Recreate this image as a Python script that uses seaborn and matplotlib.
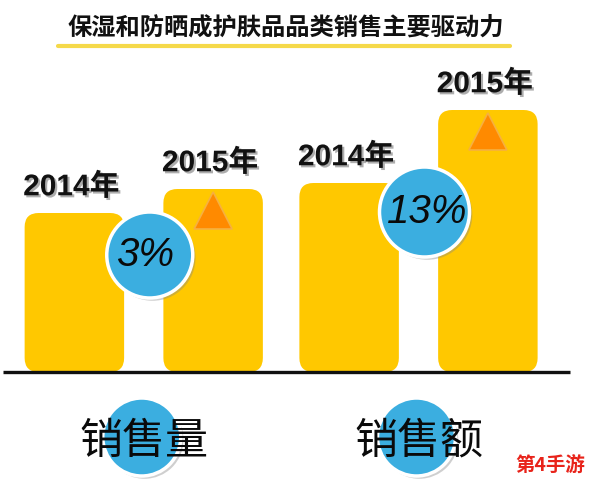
import matplotlib
matplotlib.use("Agg")
import matplotlib.pyplot as plt
import matplotlib.patheffects as pe
from matplotlib.patches import FancyBboxPatch, Ellipse, Polygon
from matplotlib.lines import Line2D
import seaborn as sns
import pandas as pd

# ---- data ----
metrics = ["销售量", "销售额"]
years = ["2014年", "2015年"]
values_2014 = [159, 189]
values_2015 = [183, 262]
growth = ["3%", "13%"]
title = "保湿和防晒成护肤品品类销售主要驱动力"
watermark = "第4手游"

df = pd.DataFrame({
    "指标": metrics * 2,
    "年份": [years[0]] * 2 + [years[1]] * 2,
    "值": values_2014 + values_2015,
})

sns.set_theme(style="white")
plt.rcParams["font.family"] = ["Noto Sans CJK SC", "DejaVu Sans"]

W, H = 594, 484
fig = plt.figure(figsize=(W / 100, H / 100), dpi=100)
ax = fig.add_axes([0, 0, 1, 1])
ax.patch.set_visible(False)

GOLD = "#FFC800"
BLUE = "#3BAEE0"
ORANGE = "#FF8A00"

PX_UNIT = 274.75   # px per category unit
X0 = 143.75        # px of first category
BASE = 372         # baseline pixel row

def dx(px):
    return (px - X0) / PX_UNIT

def dy(py):
    return BASE - py

sns.barplot(data=df, x="指标", y="值", hue="年份", order=metrics, hue_order=years,
            palette=[GOLD, GOLD], saturation=1, width=1.01, gap=0.283,
            legend=False, ax=ax)

ax.set_xlim(dx(0), dx(W))
ax.set_ylim(dy(H), dy(0))
ax.set_axis_off()

# rounded bars
bars = []
for p in list(ax.patches):
    x, y, w, h = p.get_x(), p.get_y(), p.get_width(), p.get_height()
    r = 14 / PX_UNIT
    fb = FancyBboxPatch((x, y), w, h, boxstyle=f"round,pad=0,rounding_size={r}",
                        mutation_aspect=PX_UNIT, facecolor=GOLD, edgecolor="none", zorder=2)
    ax.add_patch(fb)
    p.remove()
    bars.append((x + w / 2, h, w))

bars.sort()
labels_order = [years[0], years[1], years[0], years[1]]
shadow = [pe.withSimplePatchShadow(offset=(1.5, -1.5), shadow_rgbFace="#777777", alpha=0.6)]
for (cx, h, w), lab in zip(bars, labels_order):
    ax.text(cx - 3 / PX_UNIT, h + 26, lab, ha="center", va="center", fontsize=21.5,
            fontweight="bold", family=["Liberation Sans", "Noto Sans CJK SC"],
            color="#111111", path_effects=shadow, zorder=6)

# orange triangles on 2015 bars
for cx, h, w in [bars[1], bars[3]]:
    hw = 19 / PX_UNIT
    tri = Polygon([(cx - hw, h - 40), (cx + hw, h - 40), (cx, h - 3)], closed=True,
                  facecolor=ORANGE, edgecolor="#F6B040", linewidth=1.2, zorder=3)
    ax.add_patch(tri)

# baseline
ax.plot([dx(3), dx(570)], [0, 0], color="#111111", lw=2.4, zorder=3,
        solid_capstyle="butt")

circ_fx = [pe.withSimplePatchShadow(offset=(2, -2), shadow_rgbFace="#888888", alpha=0.4)]

def circle(px, py, r):
    c = Ellipse((dx(px), dy(py)), 2 * r / PX_UNIT, 2 * r, facecolor=BLUE,
                edgecolor="white", linewidth=2.5, zorder=4, path_effects=circ_fx)
    ax.add_patch(c)

# growth circles
for i, g in enumerate(growth):
    cx = X0 + i * PX_UNIT + 6
    cy = [255, 212][i]
    r = [43, 45][i]
    circle(cx, cy, r)
    tx = [cx - 5, cx + 3][i]
    ax.text(dx(tx), dy(cy), g, ha="center", va="center", fontsize=29,
            style="italic", family=["Liberation Sans"], color="#0A0A0A", zorder=5)

# category labels with circles behind
for i, m in enumerate(metrics):
    cx = X0 + i * PX_UNIT
    circle(cx - 2, 437, 39)
    ax.text(dx(cx), dy(442), m, ha="center", va="center", fontsize=31,
            fontweight="medium", color="#0A0A0A", zorder=5)

# title & underline
fig.text(286 / W, 1 - 28 / H, title, ha="center", va="center", fontsize=17.5,
         fontweight="bold", color="#111111")
fig.add_artist(Line2D([58 / W, 510 / W], [1 - 46 / H] * 2, color="#F5D94A", lw=3))

# watermark
fig.text(550 / W, 1 - 466 / H, watermark, ha="center", va="center", fontsize=14,
         fontweight="bold", color="#E8231A")

fig.savefig("out.png", dpi=100)
